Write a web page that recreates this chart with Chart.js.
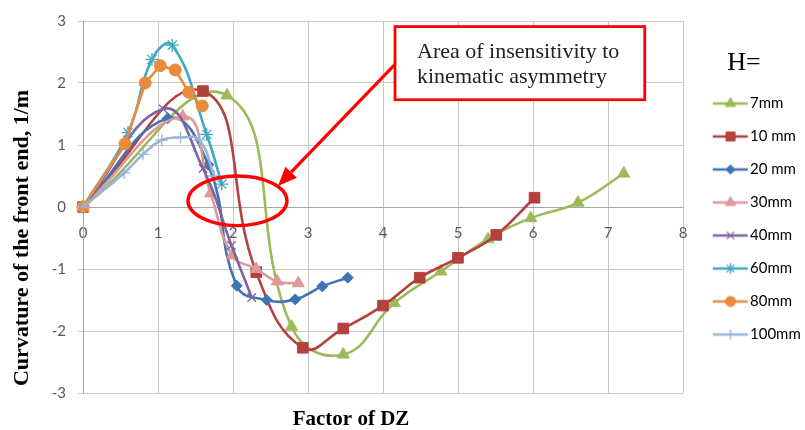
<!DOCTYPE html>
<html>
<head>
<meta charset="utf-8">
<script src="https://cdn.jsdelivr.net/npm/chart.js@4.4.1/dist/chart.umd.min.js"></script>
<style>
body{margin:0;background:#fff;}
</style>
</head>
<body>
<canvas id="chart" width="805" height="430"></canvas>
<script>
// values (x = factor of DZ, y = curvature 1/m)
const labels = ['7mm', '10 mm', '20 mm', '30mm', '40mm', '60mm', '80mm', '100mm'];

const x7 = [0, 1.92, 2.78, 3.47, 4.15, 4.77, 5.4, 5.97, 6.6, 7.21];
const y7 = [0, 1.80, -1.93, -2.38, -1.55, -1.04, -0.52, -0.18, 0.07, 0.54];

const x10 = [0, 1.6, 2.31, 2.93, 3.47, 4.0, 4.49, 5.0, 5.51, 6.02];
const y10 = [0, 1.87, -1.05, -2.27, -1.96, -1.59, -1.14, -0.82, -0.45, 0.15];

const x20 = [0, 1.13, 1.67, 2.05, 2.45, 2.83, 3.19, 3.53];
const y20 = [0, 1.43, 0.68, -1.27, -1.5, -1.49, -1.28, -1.14];

const x30 = [0, 1.33, 1.7, 1.99, 2.31, 2.59, 2.87];
const y30 = [0, 1.46, 0.22, -0.78, -1.0, -1.2, -1.23];

const x40 = [0, 1.07, 1.6, 1.98, 2.25];
const y40 = [0, 1.58, 0.62, -0.62, -1.46];

const x60 = [0, 0.6, 0.92, 1.19, 1.65, 1.85];
const y60 = [0, 1.2, 2.38, 2.61, 1.17, 0.37];

const x80 = [0, 0.56, 0.83, 1.03, 1.23, 1.41, 1.59];
const y80 = [0, 1.02, 2.0, 2.28, 2.21, 1.85, 1.63];

const x100 = [0, 0.55, 0.8, 1.05, 1.3, 1.55, 1.75];
const y100 = [0, 0.55, 0.85, 1.08, 1.12, 1.08, 0.5];

const xTicks = [0, 1, 2, 3, 4, 5, 6, 7, 8];
const yTicks = [-3, -2, -1, 0, 1, 2, 3];

const xTitle = 'Factor of DZ';
const yTitle = 'Curvature of the front end, 1/m';
const noteLines = ['Area of insensitivity to', 'kinematic asymmetry'];

function pts(xs, ys){
  return xs.map((v, i) => ({x: v, y: ys[i]}));
}

const colors = ['#9bbb59', '#b5413e', '#3f74b4', '#dd9a98', '#7f62a1', '#3fa9c1', '#eb8a3d', '#98b4dc'];
const shapes = ['triangle', 'rect', 'rectRot', 'triangle', 'crossRot', 'star', 'circle', 'cross'];
const radii  = [7, 7.5, 5.5, 7, 6, 6.5, 6, 6];
const series = [[x7,y7],[x10,y10],[x20,y20],[x30,y30],[x40,y40],[x60,y60],[x80,y80],[x100,y100]];

const datasets = series.map((s, i) => ({
  label: labels[i],
  data: pts(s[0], s[1]),
  showLine: true,
  borderColor: colors[i],
  backgroundColor: colors[i],
  borderWidth: 2.6,
  pointStyle: shapes[i],
  pointRadius: radii[i],
  pointBorderWidth: ['crossRot','star','cross'].includes(shapes[i]) ? 1.3 : 1,
  pointBackgroundColor: colors[i],
  pointBorderColor: colors[i],
  tension: i === 6 ? 0 : 0.45,
  clip: false,
  order: 8 - i
}));

function legendIcon(ds){
  const c = document.createElement('canvas');
  c.width = 60; c.height = 16;
  const g = c.getContext('2d');
  g.strokeStyle = ds.borderColor;
  g.fillStyle = ds.backgroundColor;
  g.lineWidth = 2.6;
  g.beginPath(); g.moveTo(21, 8); g.lineTo(56, 8); g.stroke();
  g.lineWidth = ds.pointBorderWidth;
  Chart.helpers.drawPoint(g, {pointStyle: ds.pointStyle, radius: ds.pointRadius * 0.85, borderWidth: ds.pointBorderWidth, rotation: 0}, 38.75, 8);
  return c;
}

const notes = {
  id: 'notes',
  afterDraw(chart){
    const {ctx, scales: {x, y}} = chart;
    ctx.save();
    // axis titles
    ctx.fillStyle = '#000';
    ctx.textAlign = 'center';
    ctx.textBaseline = 'middle';
    ctx.font = 'bold 21px "Liberation Serif", "Times New Roman", serif';
    ctx.fillText(xTitle, 351, 420);
    ctx.save();
    ctx.translate(22, 238);
    ctx.rotate(-Math.PI / 2);
    ctx.font = 'bold 22px "Liberation Serif", "Times New Roman", serif';
    ctx.fillText(yTitle, 0, 0);
    ctx.restore();

    ctx.strokeStyle = '#ff0000';
    ctx.fillStyle = '#ff0000';

    // ellipse
    const cx = x.getPixelForValue(2.06), cy = y.getPixelForValue(0.1);
    const rx = x.getPixelForValue(2.72) - cx, ry = cy - y.getPixelForValue(0.5);
    ctx.lineWidth = 3.4;
    ctx.beginPath();
    ctx.ellipse(cx, cy, rx, ry, 0, 0, Math.PI * 2);
    ctx.stroke();

    // arrow
    const ax0 = x.getPixelForValue(4.16), ay0 = y.getPixelForValue(2.3);
    const ax1 = x.getPixelForValue(2.6), ay1 = y.getPixelForValue(0.34);
    const ang = Math.atan2(ay1 - ay0, ax1 - ax0);
    const hl = 19, hw = 8;
    const bx = ax1 - hl * Math.cos(ang), by = ay1 - hl * Math.sin(ang);
    ctx.lineWidth = 3.2;
    ctx.beginPath(); ctx.moveTo(ax0, ay0); ctx.lineTo(bx, by); ctx.stroke();
    ctx.beginPath();
    ctx.moveTo(ax1, ay1);
    ctx.lineTo(bx + hw * Math.sin(ang), by - hw * Math.cos(ang));
    ctx.lineTo(bx - hw * Math.sin(ang), by + hw * Math.cos(ang));
    ctx.closePath(); ctx.fill();

    // note box
    const l = x.getPixelForValue(4.16), r = x.getPixelForValue(7.49);
    const t = y.getPixelForValue(2.91), b = y.getPixelForValue(1.73);
    ctx.fillStyle = '#fff';
    ctx.fillRect(l, t, r - l, b - t);
    ctx.lineWidth = 2.8;
    ctx.strokeRect(l, t, r - l, b - t);
    ctx.fillStyle = '#222';
    ctx.textAlign = 'left';
    ctx.textBaseline = 'alphabetic';
    ctx.font = '22px "Liberation Serif", "Times New Roman", serif';
    ctx.fillText(noteLines[0], l + 22, t + 31);
    ctx.fillText(noteLines[1], l + 22, t + 56);
    ctx.restore();
  }
};

new Chart(document.getElementById('chart'), {
  type: 'scatter',
  data: {datasets: datasets},
  options: {
    responsive: false,
    animation: false,
    layout: {padding: {top: 18, right: 0, bottom: 37, left: 0}},
    scales: {
      x: {
        type: 'linear',
        position: {y: 0},
        min: xTicks[0], max: xTicks[xTicks.length - 1],
        afterBuildTicks: s => { s.ticks = xTicks.map(v => ({value: v})); },
        ticks: {color: '#595959', font: {family: 'Lato', size: 15}, padding: 12, maxRotation: 0},
        grid: {color: '#c9c9c9', lineWidth: 1, tickLength: 5},
        border: {color: '#a6a6a6', width: 1}
      },
      y: {
        min: yTicks[0], max: yTicks[yTicks.length - 1],
        afterBuildTicks: s => { s.ticks = yTicks.map(v => ({value: v})); },
        afterFit: s => { s.width = 83; },
        ticks: {color: '#595959', font: {family: 'Lato', size: 15}, padding: 12},
        grid: {color: '#c9c9c9', lineWidth: 1, tickLength: 5},
        border: {color: '#a6a6a6', width: 1}
      }
    },
    plugins: {
      tooltip: {enabled: false},
      legend: {
        position: 'right',
        align: 'start',
        maxWidth: 122,
        title: {display: true, text: 'H=', color: '#000',
          font: {family: '"Liberation Serif", "Times New Roman", serif', size: 26, lineHeight: 1},
          padding: {top: 32, bottom: 2}},
        labels: {
          usePointStyle: true,
          pointStyleWidth: 41.5,
          padding: 18,
          color: '#404040',
          font: {family: 'Lato', size: 15},
          generateLabels: chart => chart.data.datasets.map((ds, i) => ({
            text: ds.label,
            pointStyle: legendIcon(ds),
            fillStyle: ds.backgroundColor,
            strokeStyle: ds.borderColor,
            lineWidth: 0,
            hidden: false,
            datasetIndex: i
          }))
        }
      }
    }
  },
  plugins: [notes]
});
</script>
</body>
</html>
